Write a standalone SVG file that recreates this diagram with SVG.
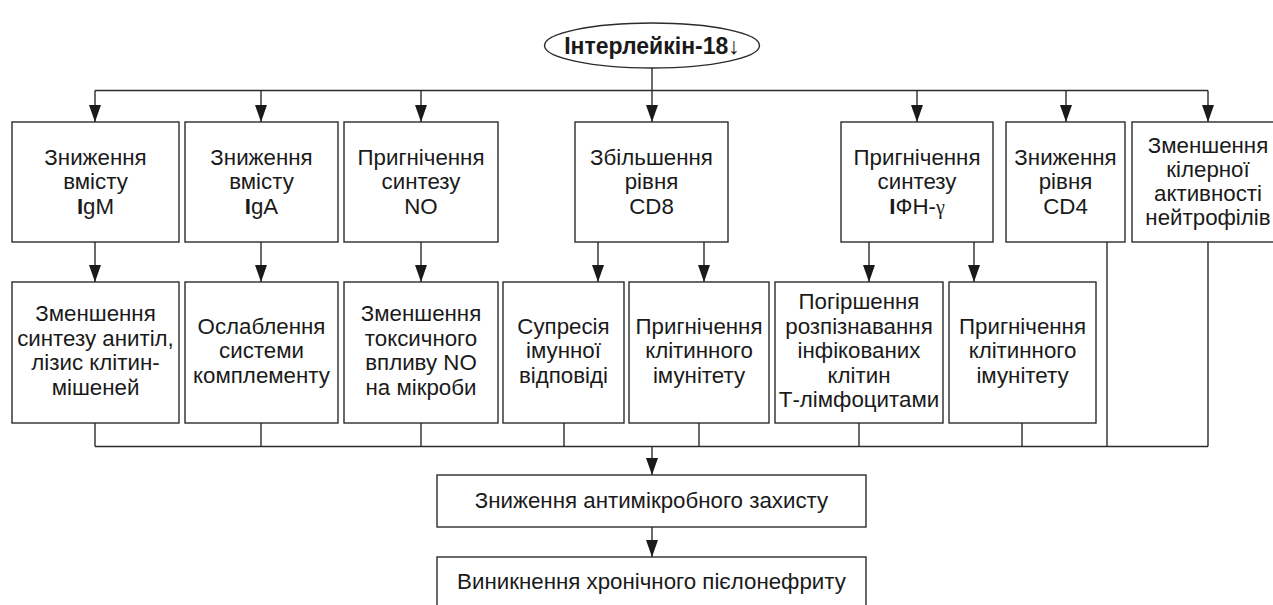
<svg xmlns="http://www.w3.org/2000/svg" width="1273" height="605" viewBox="0 0 1273 605">
<defs>
<style>
.box{fill:#fff;stroke:#2b2b2b;stroke-width:1.4}
.t{font-family:"Liberation Sans",Arial,sans-serif;font-size:22.3px;fill:#1a1a1a;text-anchor:middle}
.tb{font-family:"Liberation Sans",Arial,sans-serif;font-size:23px;font-weight:bold;fill:#1a1a1a;text-anchor:middle}
.b{font-weight:bold}
.g{font-family:"Liberation Serif","Times New Roman",serif;font-size:20px}
.c{stroke:#2b2b2b;stroke-width:1.4;fill:none}
.a{marker-end:url(#arr)}
</style>
<marker id="arr" viewBox="0 0 17 12" refX="17" refY="6" markerWidth="17" markerHeight="12" markerUnits="userSpaceOnUse" orient="auto">
<path d="M0,0 L17,6 L0,12 z" fill="#1a1a1a"/>
</marker>
</defs>
<rect width="1273" height="605" fill="#fff"/>

<g id="connectors">
<path class="c" d="M652,68 V90.5"/>
<path class="c" d="M95,90.5 H1208"/>
<path class="c a" d="M95,90.5 V122"/>
<path class="c a" d="M261,90.5 V122"/>
<path class="c a" d="M421,90.5 V122"/>
<path class="c a" d="M652,90.5 V122"/>
<path class="c a" d="M917,90.5 V122"/>
<path class="c a" d="M1066,90.5 V122"/>
<path class="c a" d="M1208,90.5 V122"/>
<path class="c a" d="M95,242 V282"/>
<path class="c a" d="M261,242 V282"/>
<path class="c a" d="M421,242 V282"/>
<path class="c a" d="M598,242 V282"/>
<path class="c a" d="M704,242 V282"/>
<path class="c a" d="M869,242 V282"/>
<path class="c a" d="M974,242 V282"/>
<path class="c" d="M95,423 V446.5 M261,423 V446.5 M421,423 V446.5 M564,423 V446.5 M699,423 V446.5 M859,423 V446.5 M1022,423 V446.5 M1107,242 V446.5 M1208,242 V446.5"/>
<path class="c" d="M95,446.5 H1208"/>
<path class="c a" d="M652,446.5 V475"/>
<path class="c a" d="M652,527 V557"/>
</g>

<g id="n0">
<ellipse cx="652" cy="45.5" rx="107.5" ry="22.5" class="box"/>
<text class="tb" x="652" y="53.5">Інтерлейкін-18<tspan font-weight="normal">↓</tspan></text>
</g>

<g id="n1">
<rect class="box" x="12" y="122" width="167" height="120"/>
<text class="t" x="95.5" y="164.5">Зниження</text>
<text class="t" x="95.5" y="189">вмісту</text>
<text class="t" x="95.5" y="213.5"><tspan class="b">I</tspan>gM</text>
</g>
<g id="n2">
<rect class="box" x="185" y="122" width="153" height="120"/>
<text class="t" x="261.5" y="164.5">Зниження</text>
<text class="t" x="261.5" y="189">вмісту</text>
<text class="t" x="261.5" y="213.5"><tspan class="b">I</tspan>gA</text>
</g>
<g id="n3">
<rect class="box" x="344" y="122" width="154" height="120"/>
<text class="t" x="421" y="164.5">Пригнічення</text>
<text class="t" x="421" y="189">синтезу</text>
<text class="t" x="421" y="213.5">NO</text>
</g>
<g id="n4">
<rect class="box" x="575" y="122" width="153" height="120"/>
<text class="t" x="651.5" y="164.5">Збільшення</text>
<text class="t" x="651.5" y="189">рівня</text>
<text class="t" x="651.5" y="213.5">CD8</text>
</g>
<g id="n5">
<rect class="box" x="841" y="122" width="152" height="120"/>
<text class="t" x="917" y="164.5">Пригнічення</text>
<text class="t" x="917" y="189">синтезу</text>
<text class="t" x="917" y="213.5"><tspan class="b">I</tspan>ФН-<tspan class="g">γ</tspan></text>
</g>
<g id="n6">
<rect class="box" x="1006" y="122" width="119" height="120"/>
<text class="t" x="1065.5" y="164.5">Зниження</text>
<text class="t" x="1065.5" y="189">рівня</text>
<text class="t" x="1065.5" y="213.5">CD4</text>
</g>
<g id="n7">
<rect class="box" x="1132" y="122" width="160" height="120"/>
<text class="t" x="1208" y="152.5">Зменшення</text>
<text class="t" x="1208" y="177">кілерної</text>
<text class="t" x="1208" y="201">активності</text>
<text class="t" x="1208" y="225">нейтрофілів</text>
</g>

<g id="n8">
<rect class="box" x="12" y="282" width="167" height="141"/>
<text class="t" x="95.5" y="321">Зменшення</text>
<text class="t" x="95.5" y="345.5">синтезу анитіл,</text>
<text class="t" x="95.5" y="370">лізис клітин-</text>
<text class="t" x="95.5" y="394.5">мішеней</text>
</g>
<g id="n9">
<rect class="box" x="185" y="282" width="153" height="141"/>
<text class="t" x="261.5" y="333.5">Ослаблення</text>
<text class="t" x="261.5" y="358">системи</text>
<text class="t" x="261.5" y="382.5">комплементу</text>
</g>
<g id="n10">
<rect class="box" x="344" y="282" width="154" height="141"/>
<text class="t" x="421" y="321">Зменшення</text>
<text class="t" x="421" y="345.5">токсичного</text>
<text class="t" x="421" y="370">впливу NO</text>
<text class="t" x="421" y="394.5">на мікроби</text>
</g>
<g id="n11">
<rect class="box" x="503" y="282" width="121" height="141"/>
<text class="t" x="563.5" y="333.5">Супресія</text>
<text class="t" x="563.5" y="358">імунної</text>
<text class="t" x="563.5" y="382.5">відповіді</text>
</g>
<g id="n12">
<rect class="box" x="629" y="282" width="140" height="141"/>
<text class="t" x="699" y="333.5">Пригнічення</text>
<text class="t" x="699" y="358">клітинного</text>
<text class="t" x="699" y="382.5">імунітету</text>
</g>
<g id="n13">
<rect class="box" x="775" y="282" width="168" height="141"/>
<text class="t" x="859" y="309">Погіршення</text>
<text class="t" x="859" y="333.5">розпізнавання</text>
<text class="t" x="859" y="358">інфікованих</text>
<text class="t" x="859" y="382.5">клітин</text>
<text class="t" x="859" y="407">Т-лімфоцитами</text>
</g>
<g id="n14">
<rect class="box" x="949" y="282" width="147" height="141"/>
<text class="t" x="1022.5" y="333.5">Пригнічення</text>
<text class="t" x="1022.5" y="358">клітинного</text>
<text class="t" x="1022.5" y="382.5">імунітету</text>
</g>

<g id="n15">
<rect class="box" x="437" y="475" width="429" height="52"/>
<text class="t" x="651.5" y="508">Зниження антимікробного захисту</text>
</g>
<g id="n16">
<rect class="box" x="437" y="557" width="429" height="70"/>
<text class="t" x="651.5" y="589">Виникнення хронічного пієлонефриту</text>
</g>
</svg>
